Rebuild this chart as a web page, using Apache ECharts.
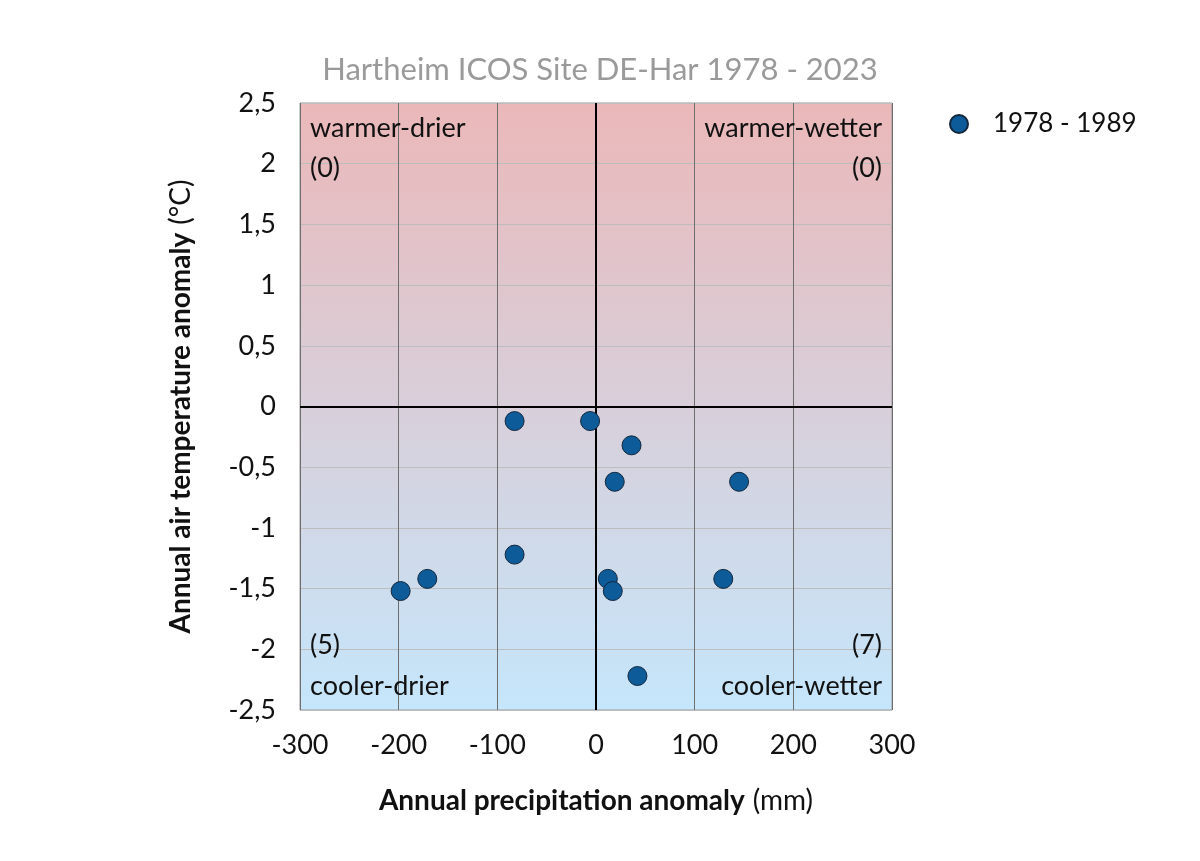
<!DOCTYPE html>
<html><head><meta charset="utf-8">
<script src="https://cdn.jsdelivr.net/npm/echarts@6/dist/echarts.min.js"></script>
<style>html,body{margin:0;padding:0;background:#fff}#c{width:1200px;height:861px}</style>
</head><body><div id="c"></div>
<script>
const seriesName = '1978 - 1989';
const precipAnomaly = [-82.5, -6, 36, 19, 145, -82.5, -171, -198, 12, 17, 129, 42];
const tempAnomaly = [-0.12, -0.12, -0.32, -0.62, -0.62, -1.22, -1.42, -1.52, -1.42, -1.52, -1.42, -2.22];
const quadrantLabels = ['warmer-drier', 'warmer-wetter', 'cooler-drier', 'cooler-wetter'];
const quadrantCounts = ['(0)', '(0)', '(5)', '(7)'];

const FONT = 'Lato';
const chart = echarts.init(document.getElementById('c'));
const data = precipAnomaly.map((x, i) => [x, tempAnomaly[i]]);
const fmt = v => String(v).replace('.', ',');

chart.setOption({
  animation: false,
  textStyle: { fontFamily: FONT },
  title: {
    text: 'Hartheim ICOS Site DE-Har 1978 - 2023',
    left: 595, top: 49, textAlign: 'center',
    textStyle: { fontFamily: FONT, fontSize: 31, fontWeight: 'normal', color: '#9a9a9a' }
  },
  legend: {
    left: 944, top: 106, itemWidth: 44, itemHeight: 18, itemGap: 10,
    icon: 'circle',
    textStyle: { fontFamily: FONT, fontSize: 26, color: '#111', padding: [0, 0, 0, 7] },
    data: [seriesName]
  },
  grid: {
    left: 300, right: 308, top: 103, bottom: 151,
    show: true,
    borderColor: '#9a9a9a', borderWidth: 1,
    backgroundColor: {
      type: 'linear', x: 0, y: 0, x2: 0, y2: 1,
      colorStops: [
        { offset: 0, color: '#ebb8b9' },
        { offset: 1, color: '#c5e6fb' }
      ]
    }
  },
  xAxis: {
    type: 'value', min: -300, max: 300, interval: 100,
    axisLine: { show: false }, axisTick: { show: false },
    axisLabel: { fontFamily: FONT, fontSize: 27, color: '#111', margin: 22 },
    splitLine: { show: true, lineStyle: { color: '#6e6e6e', width: 1 } },
    name: '{b|Annual precipitation anomaly}{n|(mm)}',
    nameLocation: 'middle', nameGap: 77,
    nameTextStyle: {
      rich: {
        b: { fontFamily: FONT, fontSize: 28, fontWeight: 'bold', color: '#111' },
        n: { fontFamily: FONT, fontSize: 28, color: '#111', padding: [0, 0, 0, 8] }
      }
    }
  },
  yAxis: {
    type: 'value', min: -2.5, max: 2.5, interval: 0.5,
    axisLine: { show: false }, axisTick: { show: false },
    axisLabel: { fontFamily: FONT, fontSize: 27, color: '#111', margin: 24, formatter: fmt },
    splitLine: { show: true, lineStyle: { color: '#bdbdbd', width: 1 } },
    name: '{b|Annual air temperature anomaly}{n|(°C)}',
    nameLocation: 'middle', nameGap: 105, nameRotate: 90,
    nameTextStyle: {
      rich: {
        b: { fontFamily: FONT, fontSize: 28, fontWeight: 'bold', color: '#111' },
        n: { fontFamily: FONT, fontSize: 28, color: '#111', padding: [0, 0, 0, 8] }
      }
    }
  },
  series: [{
    name: seriesName,
    type: 'scatter',
    symbolSize: 19,
    itemStyle: { color: '#0d5b98', borderColor: '#13273d', borderWidth: 1, opacity: 1 },
    data: data,
    z: 5,
    markLine: {
      silent: true, symbol: 'none', animation: false,
      label: { show: false },
      lineStyle: { color: '#000', width: 2, type: 'solid' },
      data: [{ xAxis: 0 }, { yAxis: 0 }],
      z: 3
    }
  }]
});

// quadrant annotations placed at data corners via the chart's own scales
function place() {
  const tl = chart.convertToPixel({ gridIndex: 0 }, [-300, 2.5]);
  const br = chart.convertToPixel({ gridIndex: 0 }, [300, -2.5]);
  const st = { fontFamily: FONT, fontSize: 27, fill: '#111' };
  const pad = 10;
  chart.setOption({
    graphic: [
      { type: 'text', x: tl[0] + pad, y: tl[1] + 25, style: Object.assign({ text: quadrantLabels[0], textVerticalAlign: 'middle' }, st) },
      { type: 'text', x: tl[0] + pad, y: tl[1] + 65, style: Object.assign({ text: quadrantCounts[0], textVerticalAlign: 'middle' }, st) },
      { type: 'text', x: br[0] - pad, y: tl[1] + 25, style: Object.assign({ text: quadrantLabels[1], textAlign: 'right', textVerticalAlign: 'middle' }, st) },
      { type: 'text', x: br[0] - pad, y: tl[1] + 65, style: Object.assign({ text: quadrantCounts[1], textAlign: 'right', textVerticalAlign: 'middle' }, st) },
      { type: 'text', x: tl[0] + pad, y: br[1] - 24, style: Object.assign({ text: quadrantLabels[2], textVerticalAlign: 'middle' }, st) },
      { type: 'text', x: tl[0] + pad, y: br[1] - 65, style: Object.assign({ text: quadrantCounts[2], textVerticalAlign: 'middle' }, st) },
      { type: 'text', x: br[0] - pad, y: br[1] - 24, style: Object.assign({ text: quadrantLabels[3], textAlign: 'right', textVerticalAlign: 'middle' }, st) },
      { type: 'text', x: br[0] - pad, y: br[1] - 65, style: Object.assign({ text: quadrantCounts[3], textAlign: 'right', textVerticalAlign: 'middle' }, st) }
    ]
  });
}
place();
</script></body></html>
